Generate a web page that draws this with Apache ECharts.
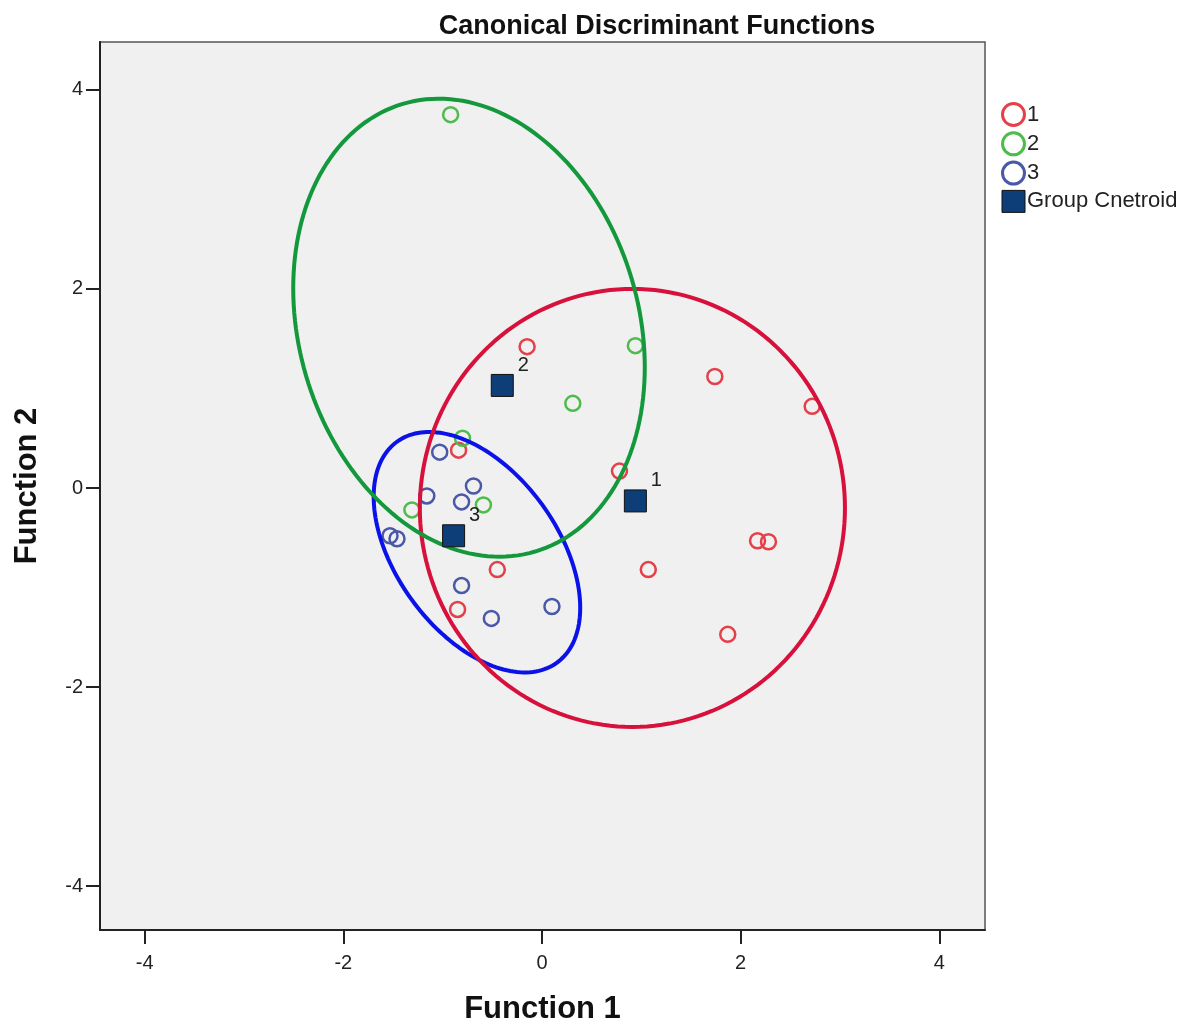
<!DOCTYPE html>
<html>
<head>
<meta charset="utf-8">
<script src="https://cdn.jsdelivr.net/npm/echarts@6/dist/echarts.min.js"></script>
<style>
  html, body { margin: 0; padding: 0; background: #fff; }
  #chart { width: 1200px; height: 1026px; }
</style>
</head>
<body>
<div id="chart"></div>
<script>
// discriminant scores per group (function 1, function 2)
const group1Points = [
  [-0.15, 1.42], [1.74, 1.12], [2.72, 0.82], [0.78, 0.17], [-0.84, 0.38],
  [2.17, -0.53], [2.28, -0.54], [1.07, -0.82], [-0.45, -0.82], [-0.85, -1.22], [1.87, -1.47]
];
const group2Points = [
  [-0.92, 3.75], [0.94, 1.43], [0.31, 0.85], [-0.80, 0.50], [-0.59, -0.17], [-1.31, -0.22]
];
const group3Points = [
  [-1.03, 0.36], [-0.69, 0.02], [-0.81, -0.14], [-1.16, -0.08], [-1.53, -0.48],
  [-1.46, -0.51], [-0.81, -0.98], [-0.51, -1.31], [0.10, -1.19]
];
const centroidPoints = [[0.94, -0.13, '1'], [-0.40, 1.03, '2'], [-0.89, -0.48, '3']];
// ellipse: centre x, centre y, semi-major, semi-minor, rotation (deg)
const ellipseParams = [
  [-0.655, -0.645, 1.371, 0.812, -54],
  [0.91, -0.20, 2.14, 2.20, 0],
  [-0.735, 1.61, 2.345, 1.71, -73.5]
];
const ellipseColors = ['#0a12e8', '#d8103c', '#13983c'];
const tickValues = [-4, -2, 0, 2, 4];

const pointColors = ['#e4404a', '#4cbc4a', '#4a58a8'];
const centroidColor = '#0d3e77';
const font = "'Liberation Sans', Arial, sans-serif";

const chart = echarts.init(document.getElementById('chart'));

function scatter(name, data, color) {
  return {
    name, type: 'scatter', data, symbol: 'circle', symbolSize: 15, z: 3,
    itemStyle: { color: 'rgba(0,0,0,0)', borderColor: color, borderWidth: 2.5, opacity: 1 }
  };
}

chart.setOption({
  animation: false,
  title: {
    text: 'Canonical Discriminant Functions', left: 652, top: 8, textAlign: 'center',
    textStyle: { fontFamily: font, fontSize: 27, fontWeight: 'bold', color: '#111' }
  },
  legend: {
    orient: 'vertical', left: 996, top: 97, itemWidth: 23, itemHeight: 22, itemGap: 4.3,
    textStyle: { fontFamily: font, fontSize: 22, lineHeight: 22, color: '#222', padding: [0, 0, 0, -3] },
    data: [
      { name: '1', icon: 'circle', itemStyle: { color: 'rgba(0,0,0,0)', borderColor: pointColors[0], borderWidth: 3 } },
      { name: '2', icon: 'circle', itemStyle: { color: 'rgba(0,0,0,0)', borderColor: pointColors[1], borderWidth: 3 } },
      { name: '3', icon: 'circle', itemStyle: { color: 'rgba(0,0,0,0)', borderColor: pointColors[2], borderWidth: 3 } },
      { name: 'Group Cnetroid', icon: 'rect', itemStyle: { color: centroidColor, borderColor: '#111', borderWidth: 1 } }
    ]
  },
  grid: {
    left: 100, right: 215, top: 42, bottom: 96, show: true, outerBoundsMode: 'none',
    backgroundColor: '#f0f0f0', borderColor: '#555', borderWidth: 1.5
  },
  xAxis: {
    type: 'value', min: -4.45, max: 4.46,
    name: 'Function 1', nameLocation: 'middle', nameGap: 64,
    nameTextStyle: { fontFamily: font, fontSize: 31, fontWeight: 'bold', color: '#111' },
    axisLine: { show: true, onZero: false, lineStyle: { color: '#222', width: 2 } },
    axisTick: { show: true, length: 14, lineStyle: { color: '#222', width: 2 }, customValues: tickValues },
    axisLabel: { fontFamily: font, fontSize: 20, color: '#222', margin: 23, customValues: tickValues },
    splitLine: { show: false }
  },
  yAxis: {
    type: 'value', min: -4.44, max: 4.48,
    name: 'Function 2', nameLocation: 'middle', nameGap: 57, nameRotate: 90,
    nameTextStyle: { fontFamily: font, fontSize: 31, fontWeight: 'bold', color: '#111' },
    axisLine: { show: true, onZero: false, lineStyle: { color: '#222', width: 2 } },
    axisTick: { show: true, length: 14, lineStyle: { color: '#222', width: 2 }, customValues: tickValues },
    axisLabel: { fontFamily: font, fontSize: 20, color: '#222', margin: 17, customValues: tickValues },
    splitLine: { show: false }
  },
  series: [
    scatter('1', group1Points, pointColors[0]),
    scatter('2', group2Points, pointColors[1]),
    scatter('3', group3Points, pointColors[2]),
    {
      type: 'custom', z: 4, silent: true,
      data: ellipseParams,
      renderItem: (params, api) => {
        const cx = api.value(0), cy = api.value(1), a = api.value(2), b = api.value(3);
        const rot = api.value(4) * Math.PI / 180;
        const pts = [];
        for (let i = 0; i < 180; i++) {
          const t = i / 180 * Math.PI * 2;
          const ex = a * Math.cos(t), ey = b * Math.sin(t);
          pts.push(api.coord([cx + ex * Math.cos(rot) - ey * Math.sin(rot), cy + ex * Math.sin(rot) + ey * Math.cos(rot)]));
        }
        return {
          type: 'polygon', shape: { points: pts },
          style: { fill: 'none', stroke: ellipseColors[params.dataIndex], lineWidth: 4 }
        };
      }
    },
    {
      name: 'Group Cnetroid', type: 'scatter', data: centroidPoints, z: 5,
      symbol: 'rect', symbolSize: 22,
      itemStyle: { color: centroidColor, borderColor: '#111', borderWidth: 1, opacity: 1 },
      label: {
        show: true, position: 'right', distance: 4, offset: [0, -20],
        formatter: p => p.value[2],
        fontFamily: font, fontSize: 20, color: '#222'
      }
    }
  ]
});
</script>
</body>
</html>
